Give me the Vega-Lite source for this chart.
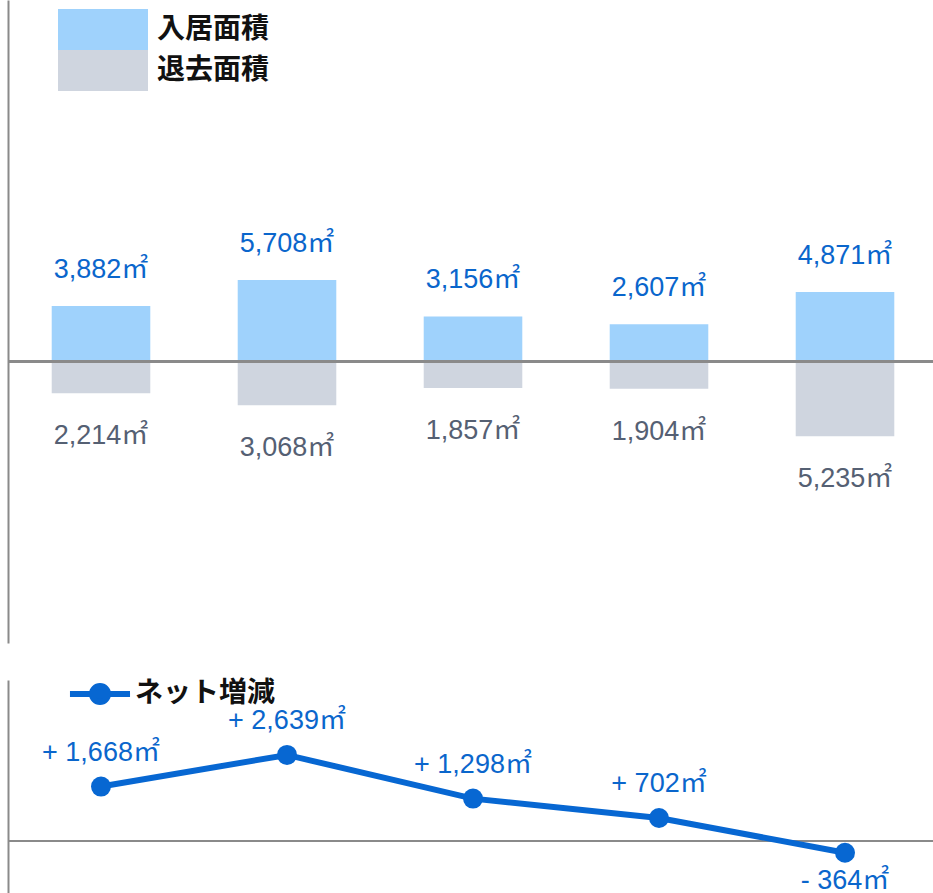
{
  "$schema": "https://vega.github.io/schema/vega-lite/v6.json",
  "padding": {"left": 7, "top": 0, "right": 0, "bottom": 0},
  "spacing": 37,
  "config": {"view": {"stroke": null}, "font": "Liberation Sans"},
  "resolve": {"scale": {"color": "independent"}, "legend": {"color": "independent"}},
  "vconcat": [
    {
      "width": 930,
      "height": 643,
      "data": {
        "values": [
          {"period": "1", "type": "入居面積", "area": 3882},
          {"period": "1", "type": "退去面積", "area": -2214},
          {"period": "2", "type": "入居面積", "area": 5708},
          {"period": "2", "type": "退去面積", "area": -3068},
          {"period": "3", "type": "入居面積", "area": 3156},
          {"period": "3", "type": "退去面積", "area": -1857},
          {"period": "4", "type": "入居面積", "area": 2607},
          {"period": "4", "type": "退去面積", "area": -1904},
          {"period": "5", "type": "入居面積", "area": 4871},
          {"period": "5", "type": "退去面積", "area": -5235}
        ]
      },
      "transform": [{"calculate": "format(abs(datum.area), ',') + '㎡'", "as": "label"}],
      "layer": [
        {
          "mark": {"type": "bar"},
          "encoding": {
            "x": {"field": "period", "type": "nominal", "axis": null, "scale": {"paddingInner": 0.47, "paddingOuter": 0.235}},
            "y": {"field": "area", "type": "quantitative", "scale": {"domain": [-19700, 25300], "nice": false, "zero": false},
                  "axis": {"title": null, "labels": false, "ticks": false, "grid": false, "domain": true, "domainColor": "#8a8a8a", "domainWidth": 2}},
            "y2": {"datum": 0},
            "color": {"field": "type", "type": "nominal",
              "scale": {"domain": ["入居面積", "退去面積"], "range": ["#9fd2fc", "#cfd5df"]},
              "legend": {"title": null, "orient": "none", "legendX": 74.5, "legendY": 9, "padding": 0,
                "symbolType": "M-2.195,-1H2.195V1H-2.195Z", "symbolSize": 1681, "symbolStrokeWidth": 0, "symbolOpacity": 1,
                "labelFont": "Noto Sans CJK JP", "labelFontSize": 28, "labelFontWeight": "bold", "labelColor": "#111111",
                "labelOffset": 33.5, "rowPadding": 0}}
          }
        },
        {
          "mark": {"type": "rule", "color": "#8a8a8a", "strokeWidth": 2},
          "encoding": {"y": {"datum": 0}}
        },
        {
          "transform": [{"filter": "datum.area > 0"}],
          "mark": {"type": "text", "baseline": "alphabetic", "dy": -28, "fontSize": 27, "color": "#0a66cc", "font": "Liberation Sans, Noto Sans CJK JP"},
          "encoding": {
            "x": {"field": "period", "type": "nominal"},
            "y": {"field": "area", "type": "quantitative"},
            "text": {"field": "label"}
          }
        },
        {
          "transform": [{"filter": "datum.area < 0"}],
          "mark": {"type": "text", "baseline": "alphabetic", "dy": 51, "fontSize": 27, "color": "#556073", "font": "Liberation Sans, Noto Sans CJK JP"},
          "encoding": {
            "x": {"field": "period", "type": "nominal"},
            "y": {"field": "area", "type": "quantitative"},
            "text": {"field": "label"}
          }
        }
      ]
    },
    {
      "width": 930,
      "height": 213,
      "data": {
        "values": [
          {"period": "1", "net": 1668},
          {"period": "2", "net": 2639},
          {"period": "3", "net": 1298},
          {"period": "4", "net": 702},
          {"period": "5", "net": -364}
        ]
      },
      "transform": [{"calculate": "(datum.net >= 0 ? '+ ' : '- ') + format(abs(datum.net), ',') + '㎡'", "as": "label"}],
      "layer": [
        {
          "mark": {"type": "rule", "color": "#8a8a8a", "strokeWidth": 2},
          "encoding": {"y": {"datum": 0, "type": "quantitative", "scale": {"domain": [-1600, 4940], "nice": false, "zero": false},
            "axis": {"title": null, "labels": false, "ticks": false, "grid": false, "domain": true, "domainColor": "#8a8a8a", "domainWidth": 2}}}
        },
        {
          "mark": {"type": "line", "strokeWidth": 6},
          "encoding": {
            "x": {"field": "period", "type": "nominal", "axis": null, "scale": {"paddingInner": 0.47, "paddingOuter": 0.235}},
            "y": {"field": "net", "type": "quantitative"},
            "color": {"datum": "ネット増減", "scale": {"range": ["#0767d2"]},
              "legend": {"title": null, "orient": "none", "legendX": 78, "legendY": 0, "padding": 0,
                "symbolType": "M-2.73,0H2.73M-0.73,0A0.73,0.73,0,1,1,0.73,0A0.73,0.73,0,1,1,-0.73,0Z", "symbolSize": 484,
                "symbolStrokeWidth": 6, "symbolFillColor": "#0767d2", "symbolStrokeColor": "#0767d2", "symbolOpacity": 1,
                "labelFont": "Noto Sans CJK JP", "labelFontSize": 28, "labelFontWeight": "bold", "labelColor": "#111111",
                "labelOffset": 21}}
          }
        },
        {
          "mark": {"type": "point", "filled": true, "size": 400, "opacity": 1, "color": "#0767d2"},
          "encoding": {
            "x": {"field": "period", "type": "nominal"},
            "y": {"field": "net", "type": "quantitative"}
          }
        },
        {
          "transform": [{"filter": "datum.net >= 0"}],
          "mark": {"type": "text", "baseline": "alphabetic", "dy": -26, "fontSize": 27, "color": "#0a66cc", "font": "Liberation Sans, Noto Sans CJK JP"},
          "encoding": {
            "x": {"field": "period", "type": "nominal"},
            "y": {"field": "net", "type": "quantitative"},
            "text": {"field": "label"}
          }
        },
        {
          "transform": [{"filter": "datum.net < 0"}],
          "mark": {"type": "text", "baseline": "alphabetic", "dy": 36, "fontSize": 27, "color": "#0a66cc", "font": "Liberation Sans, Noto Sans CJK JP"},
          "encoding": {
            "x": {"field": "period", "type": "nominal"},
            "y": {"field": "net", "type": "quantitative"},
            "text": {"field": "label"}
          }
        }
      ]
    }
  ]
}
